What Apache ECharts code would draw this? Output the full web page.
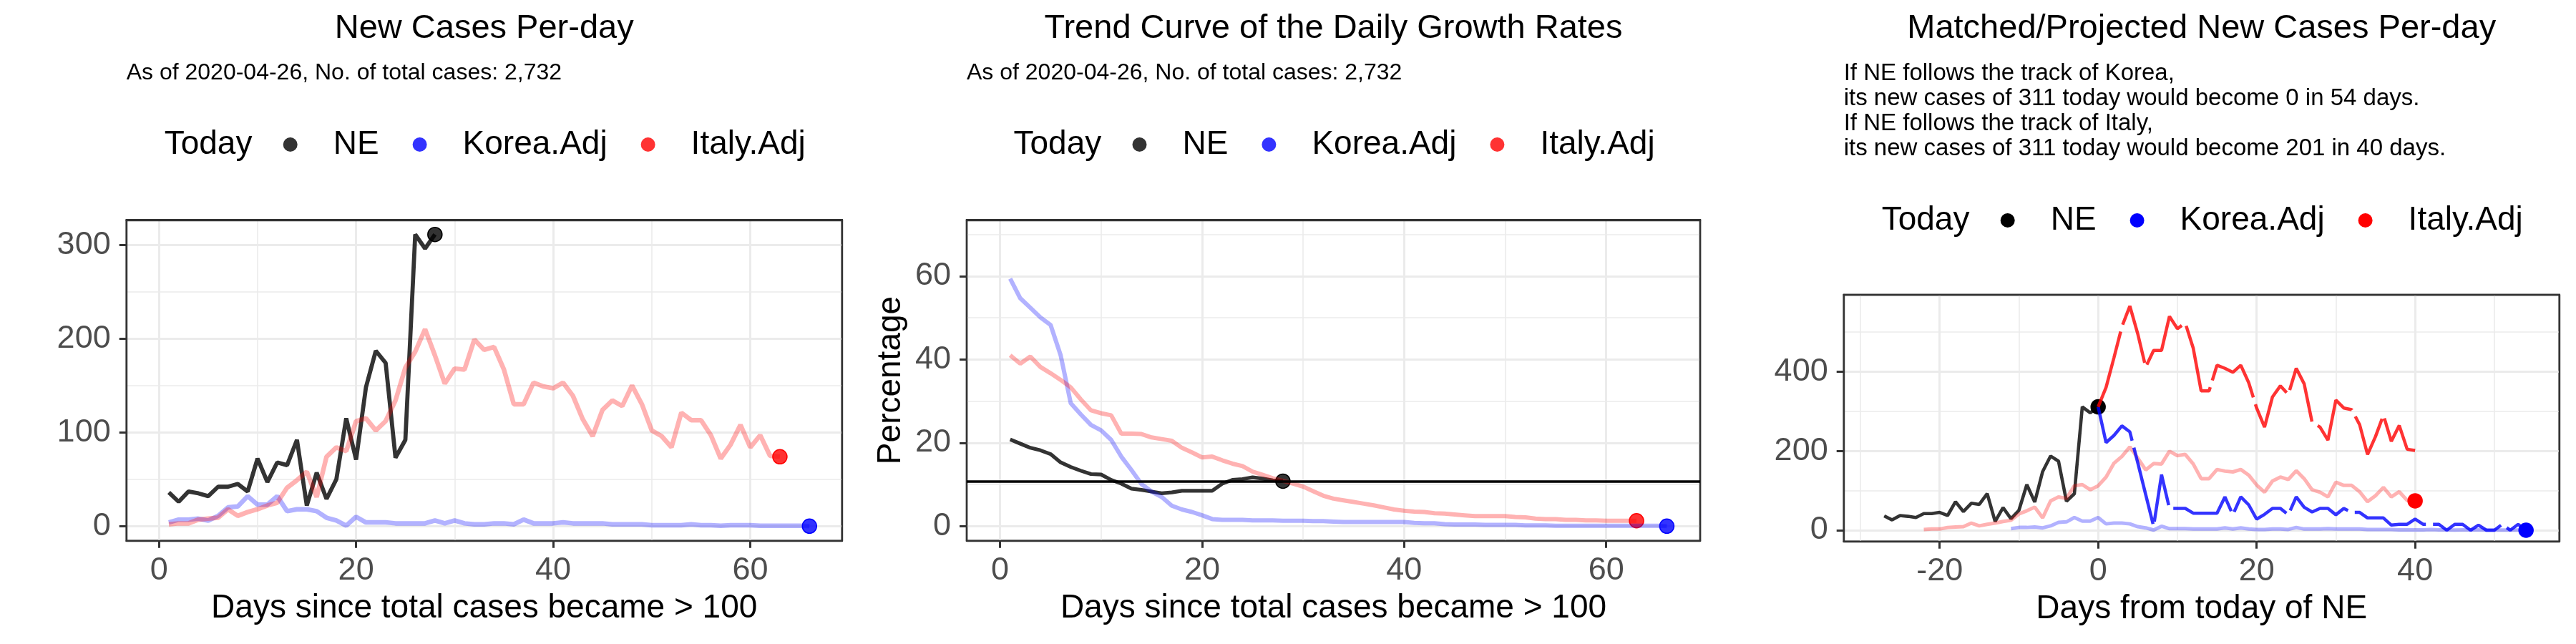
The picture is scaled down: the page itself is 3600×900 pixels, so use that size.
<!DOCTYPE html>
<html>
<head>
<meta charset="utf-8">
<script src="https://cdn.jsdelivr.net/npm/echarts@6/dist/echarts.min.js"></script>
<style>
html, body { margin: 0; padding: 0; background: #fff; }
.panel { position: absolute; top: 0; width: 1200px; height: 900px; }
</style>
</head>
<body>
<div id="chart1" class="panel" style="left:0px"></div>
<div id="chart2" class="panel" style="left:1200px"></div>
<div id="chart3" class="panel" style="left:2400px"></div>
<script>
// daily new cases, day 1 = first day with total cases > 100
var neNew = [36, 26, 37, 35, 32, 42, 42, 45, 37, 72, 47, 68, 65, 92, 22, 57, 29, 50, 115, 71,
             148, 187, 174, 73, 92, 311, 296, 311];
var koreaNew = [4, 7, 7, 8, 6, 11, 20, 21, 32, 23, 23, 32, 16, 18, 18, 16, 9, 6, 0.5, 10,
                4, 4, 4, 3, 3, 3, 3, 6, 3, 6, 3, 2, 2, 3, 3, 2, 7, 3, 3, 3,
                4, 3, 3, 3, 3, 2, 2, 2, 2, 1, 1, 1, 1, 2, 1, 1, 0.5, 1, 1, 1,
                0.5, 0.5, 0.5, 0.5, 0.5, 0];
var italyNew = [2, 3, 3, 7, 8, 9, 18, 11, 15, 18, 22, 25, 41, 49, 58, 31, 74, 84, 80, 112,
                115, 102, 112, 134, 169, 186, 210, 182, 152, 168, 167, 199, 188, 191, 167, 130, 130, 153, 149, 147,
                153, 139, 114, 96, 124, 134, 128, 150, 130, 102, 96, 84, 121, 113, 113, 97, 72, 87, 108, 84,
                97, 75, 74];

// trend curve of the daily growth rates (%)
var neRate = [20.8, 19.8, 18.8, 18.2, 17.3, 15.3, 14.2, 13.3, 12.5, 12.4, 11.1, 10.2, 9.0, 8.7, 8.3, 7.9, 8.1, 8.5, 8.5, 8.5,
              8.5, 10.2, 11.1, 11.3, 11.7, 11.4, 11.0, 10.8];
var koreaRate = [59.4, 54.7, 52.4, 50.1, 48.3, 41.0, 29.5, 26.8, 24.3, 23.0, 20.7, 16.7, 13.5, 10.1, 8.3, 7.0, 4.9, 4.0, 3.4, 2.6,
                 1.7, 1.5, 1.5, 1.5, 1.4, 1.4, 1.4, 1.3, 1.3, 1.3, 1.2, 1.2, 1.1, 1.0, 1.0, 1.0, 1.0, 1.0, 1.0, 1.0,
                 0.8, 0.7, 0.7, 0.5, 0.4, 0.4, 0.4, 0.3, 0.3, 0.3, 0.3, 0.2, 0.2, 0.2, 0.1, 0.1, 0.1, 0.1, 0.1, 0.1,
                 0.1, 0.1, 0.1, 0.1, 0.1, 0.0];
var italyRate = [41.0, 39.0, 40.7, 38.2, 36.7, 35.1, 33.3, 30.4, 27.8, 27.1, 26.6, 22.2, 22.2, 22.1, 21.3, 20.9, 20.5, 18.8, 17.7, 16.5,
                 16.7, 15.8, 15.0, 14.4, 13.1, 12.3, 11.5, 10.9, 10.2, 9.5, 8.4, 7.3, 6.6, 6.2, 5.8, 5.4, 5.0, 4.5, 4.0, 3.7,
                 3.5, 3.4, 3.1, 3.0, 2.8, 2.6, 2.4, 2.4, 2.4, 2.4, 2.2, 2.1, 1.8, 1.7, 1.7, 1.5, 1.5, 1.4, 1.4, 1.3,
                 1.3, 1.3, 1.3];

// projected new cases, day 0 = today of NE
var koreaProj = [311, 221, 239, 263, 248, 170, 90, 10, 140, 55, 55, 55, 43, 43, 43, 43, 84, 39, 84, 64,
                 28, 40, 55, 55, 39, 84, 58, 46, 55, 55, 39, 55, 45, 45, 31, 31, 31, 13, 15, 15,
                 28, 15, 15, 15, 0, 15, 15, 0, 13, 0, 0, 15, 0, 15, 0];
var italyProj = [311, 360, 435, 513, 565, 495, 411, 453, 453, 539, 508, 522, 459, 351, 351, 416, 408, 398, 416, 372,
                 308, 260, 336, 364, 342, 408, 369, 272, 260, 227, 328, 308, 304, 266, 191, 236, 290, 224, 264, 204,
                 201];

// day offsets used to match the tracks in the third panel
var neShift = -28, koreaShift = -12, italyShift = -23;

var xTicksDays = [0, 20, 40, 60];
var xMinorDays = [10, 30, 50];
var xTicksFromToday = [-20, 0, 20, 40];
var xMinorFromToday = [-30, -10, 10, 30, 50];
var yTicksNew = [0, 100, 200, 300];
var yMinorNew = [50, 150, 250];
var yTicksRate = [0, 20, 40, 60];
var yMinorRate = [10, 30, 50, 70];
var yTicksProj = [0, 200, 400];
var yMinorProj = [100, 300, 500];

var FONT = "'Liberation Sans', Arial, sans-serif";
var subText = 'As of 2020-04-26, No. of total cases: 2,732';

function pairs(vals, shift) {
    return vals.map(function (v, i) { return [i + 1 + shift, v]; });
}
function projPairs(vals) {
    return vals.map(function (v, i) { return [i, v]; });
}
function lastPoint(vals, shift) {
    return [[vals.length + shift, vals[vals.length - 1]]];
}

// one axis carries ticks, labels and major grid; the twin on the far side gives minor grid + frame
function axisPair(min, max, majors, minors, isY, name, nameGap) {
    var frame = { show: true, onZero: false, lineStyle: { color: '#333', width: 2.4 } };
    var major = {
        type: 'value', min: min, max: max,
        position: isY ? 'left' : 'bottom',
        axisLine: frame,
        axisTick: { show: true, length: 10, lineStyle: { color: '#333', width: 3 }, customValues: majors },
        axisLabel: { customValues: majors, color: '#4d4d4d', fontSize: 45, fontFamily: FONT, margin: isY ? 22 : 19 },
        splitLine: { show: true, lineStyle: { color: '#ebebeb', width: 3 } },
        name: name, nameLocation: 'middle', nameGap: nameGap,
        nameTextStyle: { color: '#000', fontSize: 46, fontFamily: FONT }
    };
    var minor = {
        type: 'value', min: min, max: max,
        position: isY ? 'right' : 'top',
        axisLine: frame, axisLabel: { show: false },
        axisTick: { show: false, customValues: minors },
        splitLine: { show: true, lineStyle: { color: '#ebebeb', width: 1.6 } }
    };
    return [major, minor];
}

function lineSeries(data, color, width, dashed) {
    return {
        type: 'line', data: data, symbol: 'none', silent: true,
        lineStyle: { color: color, width: width, type: dashed ? [110, 10] : 'solid' }
    };
}
function pointSeries(name, data, fill, border) {
    return {
        type: 'scatter', name: name, data: data, symbolSize: 20,
        itemStyle: { color: fill, borderColor: border, borderWidth: 1.5, opacity: 1 }
    };
}

function headerParts(plotLeft, plotRight, titleText, subLines, subSize, legendTop, colors) {
    var center = (plotLeft + plotRight) / 2;
    var multi = subLines.indexOf('\n') >= 0;
    var titles = [
        { text: titleText, left: center, top: 17, textAlign: 'center', padding: 0,
          textStyle: { fontSize: 47, fontWeight: 'normal', color: '#000', fontFamily: FONT } },
        { text: subLines, left: plotLeft, top: multi ? 85 : 86, padding: 0,
          textStyle: { fontSize: subSize, fontWeight: 'normal', color: '#000', fontFamily: FONT, lineHeight: multi ? 35 : 32 } },
        { text: 'Today', left: center - 447, top: legendTop, padding: 0,
          textStyle: { fontSize: 46, fontWeight: 'normal', color: '#000', fontFamily: FONT, lineHeight: 46 } }
    ];
    var names = ['NE', 'Korea.Adj', 'Italy.Adj'];
    var legend = {
        left: center - 447 + 166, top: legendTop, padding: 0,
        icon: 'circle', itemWidth: 20, itemHeight: 20, itemGap: 47,
        textStyle: { fontSize: 46, color: '#000', fontFamily: FONT, lineHeight: 46, padding: [0, 0, 0, 45] },
        data: names.map(function (n, i) {
            return { name: n, icon: 'circle', itemStyle: { color: colors[i], borderWidth: 0 } };
        })
    };
    return { title: titles, legend: legend };
}

var gridBase = { show: true, borderColor: '#333', borderWidth: 2.4, containLabel: false, outerBoundsMode: 'none' };

// ---- panel 1: new cases per day
(function () {
    var plotLeft = 176.7, plotRight = 1176.7;
    var head = headerParts(plotLeft, plotRight, 'New Cases Per-day', subText, 32, 179, ['#333333', '#3333ff', '#ff3333']);
    var chart = echarts.init(document.getElementById('chart1'));
    var option = {
        animation: false,
        title: head.title,
        legend: head.legend,
        grid: Object.assign({ left: plotLeft, right: 1200 - plotRight, top: 307.3, bottom: 900 - 755.7 }, gridBase),
        xAxis: axisPair(-3.3, 69.3, xTicksDays, xMinorDays, false, 'Days since total cases became > 100', 72),
        yAxis: axisPair(-15.55, 326.55, yTicksNew, yMinorNew, true, '', 0),
        series: [
            lineSeries(pairs(neNew, 0), 'rgba(0,0,0,0.8)', 5.8),
            lineSeries(pairs(koreaNew, 0), 'rgba(0,0,255,0.3)', 6.5),
            lineSeries(pairs(italyNew, 0), 'rgba(255,0,0,0.3)', 6.5),
            pointSeries('NE', lastPoint(neNew, 0), 'rgba(0,0,0,0.8)', '#000'),
            pointSeries('Korea.Adj', lastPoint(koreaNew, 0), 'rgba(0,0,255,0.8)', '#0000ff'),
            pointSeries('Italy.Adj', lastPoint(italyNew, 0), 'rgba(255,0,0,0.8)', '#ff0000')
        ]
    };
    chart.setOption(option);
})();

// ---- panel 2: growth rate trend
(function () {
    var plotLeft = 151, plotRight = 1176;
    var head = headerParts(plotLeft, plotRight, 'Trend Curve of the Daily Growth Rates', subText, 32, 179, ['#333333', '#3333ff', '#ff3333']);
    var chart = echarts.init(document.getElementById('chart2'));
    var todayRate = neRate[neRate.length - 1];
    var option = {
        animation: false,
        title: head.title,
        legend: head.legend,
        grid: Object.assign({ left: plotLeft, right: 1200 - plotRight, top: 307.3, bottom: 900 - 755.7 }, gridBase),
        xAxis: axisPair(-3.3, 69.3, xTicksDays, xMinorDays, false, 'Days since total cases became > 100', 72),
        yAxis: axisPair(-3.5, 73.5, yTicksRate, yMinorRate, true, 'Percentage', 83),
        series: [
            lineSeries(pairs(neRate, 0), 'rgba(0,0,0,0.8)', 5.2),
            lineSeries(pairs(koreaRate, 0), 'rgba(0,0,255,0.3)', 6),
            lineSeries(pairs(italyRate, 0), 'rgba(255,0,0,0.3)', 6),
            {
                type: 'line', data: [], silent: true,
                markLine: {
                    silent: true, symbol: 'none', label: { show: false },
                    lineStyle: { color: '#000', width: 3.7, type: 'solid' },
                    data: [{ yAxis: todayRate }]
                }
            },
            pointSeries('NE', lastPoint(neRate, 0), 'rgba(0,0,0,0.8)', '#000'),
            pointSeries('Korea.Adj', lastPoint(koreaRate, 0), 'rgba(0,0,255,0.8)', '#0000ff'),
            pointSeries('Italy.Adj', lastPoint(italyRate, 0), 'rgba(255,0,0,0.8)', '#ff0000')
        ]
    };
    chart.setOption(option);
})();

// ---- panel 3: matched / projected new cases
(function () {
    var plotLeft = 176.7, plotRight = 1176.7;
    var lines = 'If NE follows the track of Korea,\n' +
                'its new cases of 311 today would become 0 in 54 days.\n' +
                'If NE follows the track of Italy,\n' +
                'its new cases of 311 today would become 201 in 40 days.';
    var head = headerParts(plotLeft, plotRight, 'Matched/Projected New Cases Per-day', lines, 33, 285, ['#000000', '#0000ff', '#ff0000']);
    var chart = echarts.init(document.getElementById('chart3'));
    var option = {
        animation: false,
        title: head.title,
        legend: head.legend,
        grid: Object.assign({ left: plotLeft, right: 1200 - plotRight, top: 412, bottom: 900 - 756.7 }, gridBase),
        xAxis: axisPair(-32.1, 58.2, xTicksFromToday, xMinorFromToday, false, 'Days from today of NE', 72),
        yAxis: axisPair(-28.3, 593.3, yTicksProj, yMinorProj, true, '', 0),
        series: [
            lineSeries(pairs(neNew, neShift), 'rgba(0,0,0,0.8)', 4.6),
            lineSeries(pairs(koreaNew, koreaShift), 'rgba(0,0,255,0.3)', 5),
            lineSeries(pairs(italyNew, italyShift), 'rgba(255,0,0,0.3)', 5),
            lineSeries(projPairs(koreaProj), 'rgba(0,0,255,0.8)', 4.5, true),
            lineSeries(projPairs(italyProj), 'rgba(255,0,0,0.8)', 4.5, true),
            pointSeries('NE', lastPoint(neNew, neShift), '#000000', '#000000'),
            pointSeries('Korea.Adj', lastPoint(koreaNew, koreaShift), '#0000ff', '#0000ff'),
            pointSeries('Italy.Adj', lastPoint(italyNew, italyShift), '#ff0000', '#ff0000')
        ]
    };
    chart.setOption(option);
})();
</script>
</body>
</html>
